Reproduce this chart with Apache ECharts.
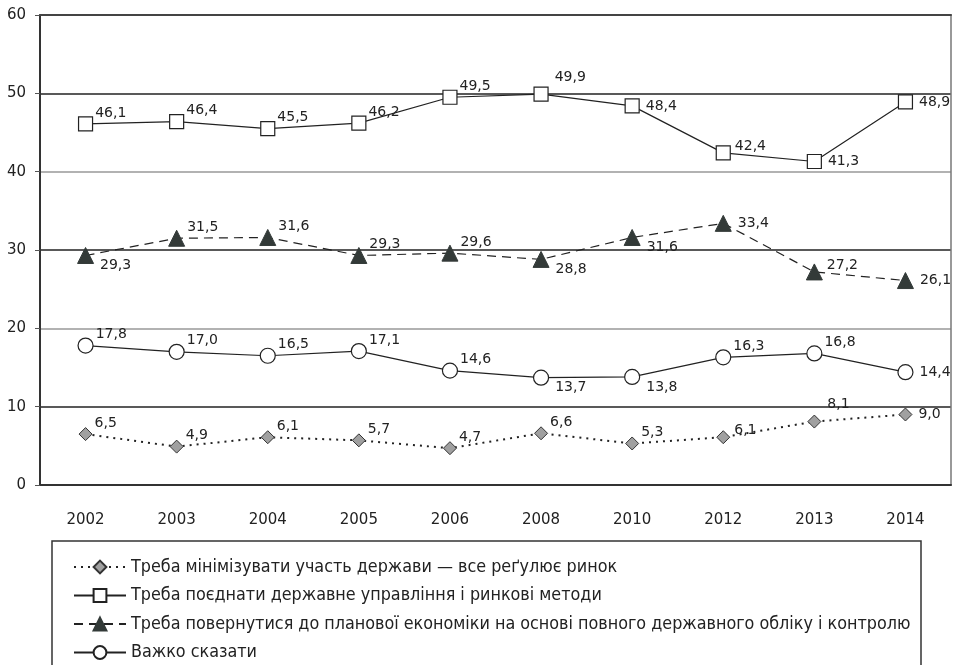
<!DOCTYPE html>
<html>
<head>
<meta charset="utf-8">
<script src="https://cdn.jsdelivr.net/npm/echarts@6/dist/echarts.min.js"></script>
<style>
  html, body { margin: 0; padding: 0; background: #fff; }
  #chart { width: 957px; height: 665px; }
</style>
</head>
<body>
<div id="chart"></div>
<script>
// categories (survey years)
var years = ["2002", "2003", "2004", "2005", "2006", "2008", "2010", "2012", "2013", "2014"];

// series values, %
var minimizeState = [6.5, 4.9, 6.1, 5.7, 4.7, 6.6, 5.3, 6.1, 8.1, 9.0];
var combineMethods = [46.1, 46.4, 45.5, 46.2, 49.5, 49.9, 48.4, 42.4, 41.3, 48.9];
var plannedEconomy = [29.3, 31.5, 31.6, 29.3, 29.6, 28.8, 31.6, 33.4, 27.2, 26.1];
var hardToSay = [17.8, 17.0, 16.5, 17.1, 14.6, 13.7, 13.8, 16.3, 16.8, 14.4];

var names = [
  "Треба мінімізувати участь держави — все реґулює ринок",
  "Треба поєднати державне управління і ринкові методи",
  "Треба повернутися до планової економіки на основі повного державного обліку і контролю",
  "Важко сказати"
];

// where each value label sits relative to its point
var placeMin = ["ar", "ar", "ar", "ar", "ar", "ar", "ar", "rs", "hi", "r"];
var placeCombine = ["ar", "ar", "ar", "ar", "ar", "hi", "r", "rs", "r", "r"];
var placePlanned = ["br", "ar", "ar", "ar", "ar", "br", "br", "r", "rs", "r"];
var placeHard = ["ar", "ar", "ar", "ar", "ar", "br", "br", "ar", "ar", "r"];

var offsets = {
  ar: [-2, -11],
  hi: [2, -17],
  r: [2, 0],
  rs: [0, -7],
  br: [2, 10]
};

var labelFont = "DejaVu Sans";

function withLabels(values, places) {
  return values.map(function (v, i) {
    return {
      value: v,
      label: { offset: offsets[places[i]] }
    };
  });
}

function commaFmt(p) {
  return p.value.toFixed(1).replace(".", ",");
}

var baseLabel = {
  show: true,
  position: "right",
  distance: 4,
  color: "#222",
  fontSize: 14,
  fontFamily: labelFont,
  formatter: commaFmt
};

var chart = echarts.init(document.getElementById("chart"), null, { renderer: "canvas" });

var option = {
  animation: false,
  backgroundColor: "#fff",
  grid: { left: 40, right: 6, top: 15, bottom: 180, containLabel: false },
  legend: {
    orient: "vertical",
    left: 73,
    top: 558,
    height: 150,
    padding: 0,
    itemWidth: 52,
    itemHeight: 16,
    itemGap: 10.5,
    textStyle: { fontFamily: "'DejaVu Sans Condensed', 'Liberation Sans Narrow', sans-serif", fontSize: 17.8, color: "#222" },
    data: names
  },
  graphic: [
    {
      type: "rect",
      silent: true,
      shape: { x: 52, y: 541, width: 869, height: 200 },
      style: { fill: null, stroke: "#333", lineWidth: 1.5 }
    }
  ],
  xAxis: [
    {
      type: "category",
      data: years,
      boundaryGap: true,
      axisLine: { lineStyle: { color: "#333", width: 2 } },
      axisTick: { length: 6, lineStyle: { color: "#555", width: 1 } },
      axisLabel: { margin: 28, fontSize: 15, color: "#222", fontFamily: labelFont }
    },
    {
      type: "category",
      data: years,
      position: "top",
      z: 5,
      axisLine: { onZero: false, lineStyle: { color: "#444", width: 2 } },
      axisTick: { show: false },
      axisLabel: { show: false }
    }
  ],
  yAxis: [
    {
      type: "value",
      min: 0,
      max: 60,
      interval: 10,
      axisLine: { show: true, lineStyle: { color: "#333", width: 2 } },
      axisTick: { show: true, length: 5, lineStyle: { color: "#555" } },
      axisLabel: { margin: 14, fontSize: 15, color: "#222", fontFamily: labelFont },
      splitLine: {
        show: true,
        showMinLine: false,
        showMaxLine: false,
        lineStyle: { color: ["#222", "#999"], width: 1.5 }
      }
    },
    {
      type: "value",
      min: 0,
      max: 60,
      interval: 10,
      position: "right",
      axisLine: { show: true, onZero: false, lineStyle: { color: "#777", width: 1.5 } },
      axisTick: { show: false },
      axisLabel: { show: false },
      splitLine: { show: false }
    }
  ],
  series: [
    {
      name: names[0],
      type: "line",
      data: withLabels(minimizeState, placeMin),
      symbol: "diamond",
      symbolSize: 13,
      itemStyle: { color: "#a0a0a0", borderColor: "#333", borderWidth: 1 },
      lineStyle: { color: "#222", width: 2, type: [2, 5] },
      label: baseLabel,
      z: 5
    },
    {
      name: names[1],
      type: "line",
      data: withLabels(combineMethods, placeCombine),
      symbol: "rect",
      symbolSize: 14,
      itemStyle: { color: "#fff", borderColor: "#222", borderWidth: 1.2 },
      lineStyle: { color: "#222", width: 1.2, type: "solid" },
      label: baseLabel,
      z: 5
    },
    {
      name: names[2],
      type: "line",
      data: withLabels(plannedEconomy, placePlanned),
      symbol: "triangle",
      symbolSize: 16,
      itemStyle: { color: "#333a38", borderColor: "#333a38", borderWidth: 1 },
      lineStyle: { color: "#222", width: 1.2, type: [9, 6] },
      label: baseLabel,
      z: 5
    },
    {
      name: names[3],
      type: "line",
      data: withLabels(hardToSay, placeHard),
      symbol: "circle",
      symbolSize: 15,
      itemStyle: { color: "#fff", borderColor: "#222", borderWidth: 1.2 },
      lineStyle: { color: "#222", width: 1.2, type: "solid" },
      label: baseLabel,
      z: 5
    }
  ]
};

chart.setOption(option);
</script>
</body>
</html>
